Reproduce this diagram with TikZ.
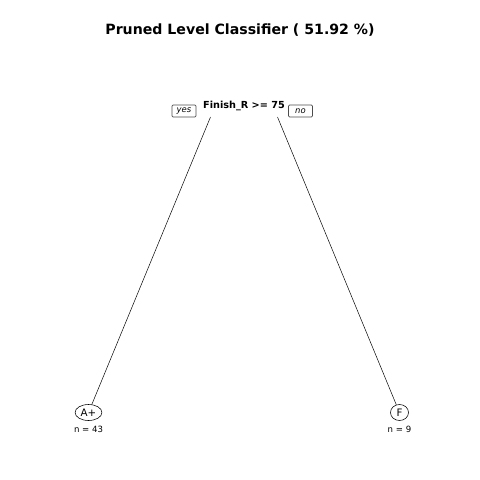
\documentclass[tikz,border=0pt]{standalone}
\usepackage{fontspec}
\setmainfont{DejaVu Sans}
\usetikzlibrary{shapes.geometric}
\begin{document}
\begin{tikzpicture}[x=0.025cm,y=-0.025cm]
        \tikzstyle{leaf} = [ellipse, draw=black, line width=.4, text=black, font=\fontsize{7.3}{8}\selectfont, inner sep=1.2pt, minimum height=16*0.025cm]
        \tikzstyle{tag} = [rectangle, rounded corners=.8pt, draw=black!70, line width=.4, font=\fontsize{6}{7}\selectfont\itshape, minimum width=24*0.025cm, minimum height=12*0.025cm, inner sep=1pt]
        \tikzstyle{count} = [font=\fontsize{6.1}{7}\selectfont]
        \tikzstyle{line} = [draw=black, line width=.35]
        \useasboundingbox (0,0) rectangle (480,480);
        \node[font=\bfseries\fontsize{10.05}{12}\selectfont] (title) at (240,30) {Pruned Level Classifier ( 51.92 \%)};
        \node[font=\bfseries\fontsize{6.9}{8}\selectfont] (split) at (244,106) {Finish\_R >= 75};
        \node[tag] (yes) at (184,111) {yes};
        \node[tag] (no) at (300.5,111) {no};
        \coordinate (yesout) at (210.5,117);
        \coordinate (noout) at (277.5,117);
        \node[leaf] (aplus) at (88.5,412.5) {A+};
        \node[leaf, minimum width=18*0.025cm] (fail) at (399.5,412.5) {F};
        \node[count] (naplus) at (88.5,429) {n = 43};
        \node[count] (nfail) at (399.5,429) {n = 9};
        \draw[line] (yesout) to (aplus);
        \draw[line] (noout) to (fail);
    \end{tikzpicture}
\end{document}
